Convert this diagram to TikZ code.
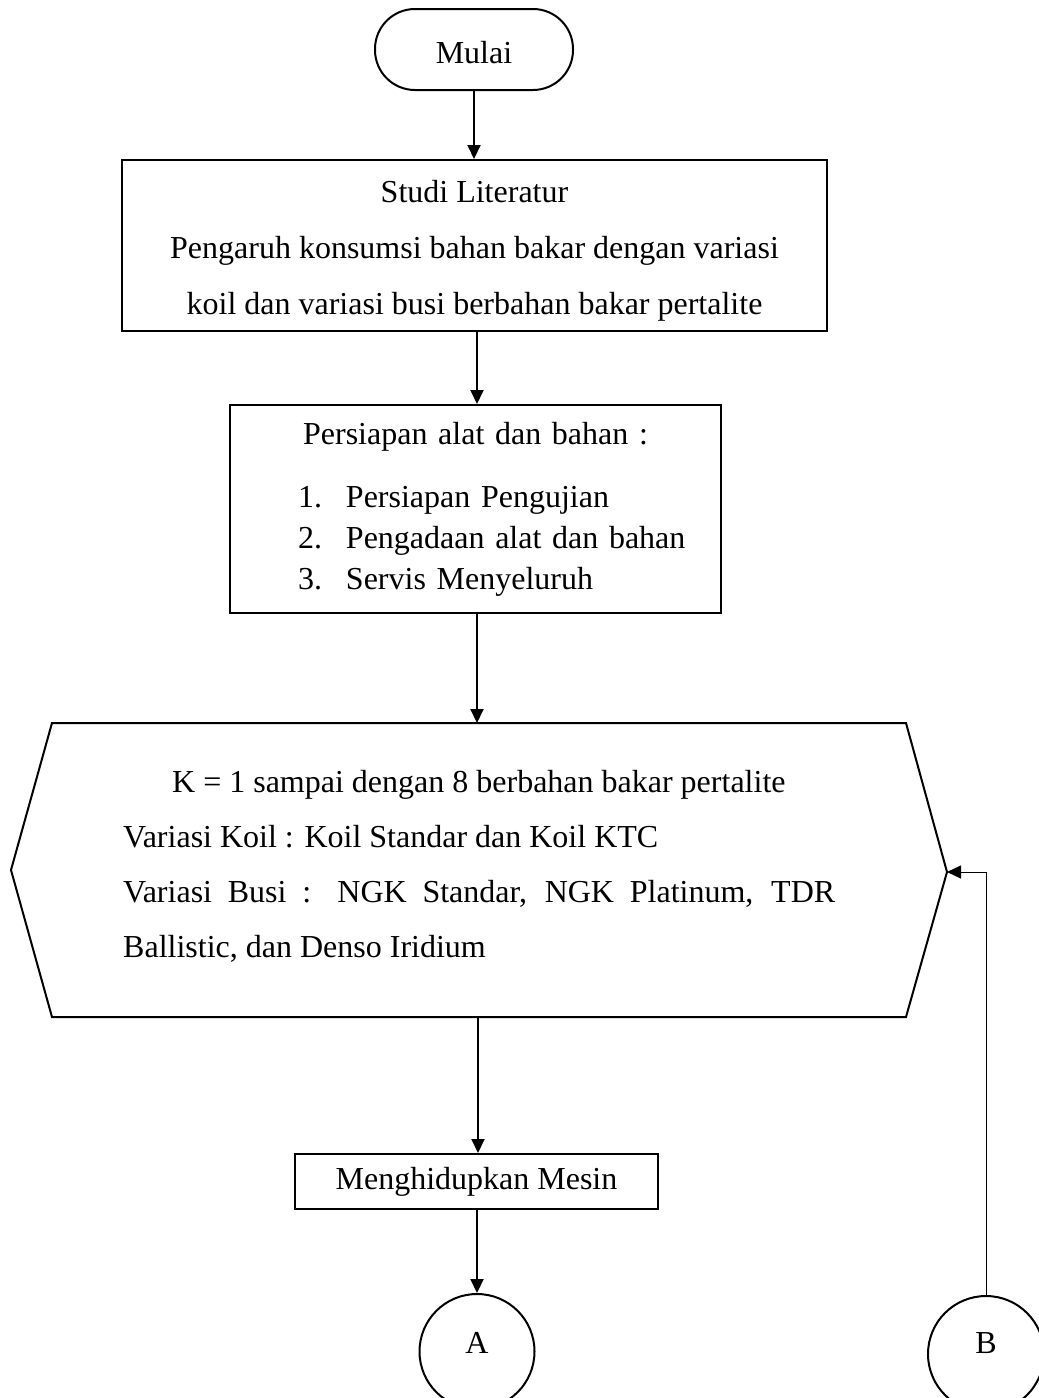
\documentclass[tikz,border=0pt]{standalone}
\usepackage{fontspec}
\setmainfont{Liberation Serif}
\usetikzlibrary{arrows.meta}
\tikzset{
  base/.style={draw, line width=2pt, inner sep=0pt, font=\fontsize{32}{56}\selectfont},
  boxnode/.style={base, rectangle},
  termnode/.style={base, rectangle, rounded corners=40pt},
  connnode/.style={base, circle},
  arr/.style={line width=2pt, -{Triangle[length=14pt,width=13pt]}},
  thinarr/.style={line width=1pt, -{Triangle[length=14pt,width=13pt]}},
  hexline/.style={line width=2pt, line join=miter},
}
\begin{document}
\begin{tikzpicture}[x=1pt,y=-1pt]
\useasboundingbox (0,0) rectangle (1039,1398);
% Terminator
\node[termnode, minimum width=198pt, minimum height=81pt] (mulai) at (474,49.5) {\rule{0pt}{28pt}Mulai};
% Studi Literatur
\node[boxnode, minimum width=705pt, minimum height=171pt, align=center] (studi) at (474.5,245.5)
  {\rule{0pt}{32pt}Studi Literatur\\Pengaruh konsumsi bahan bakar dengan variasi\\koil dan variasi busi berbahan bakar pertalite};
% Persiapan
\node[boxnode, minimum width=491pt, minimum height=208pt, text width=491pt, align=center,
      font=\fontsize{32}{41}\selectfont] (pers) at (475.5,509)
  {Persiapan alat dan bahan :\\[22pt]
   \makebox[491pt][l]{\hspace{68pt}\makebox[48pt][l]{1.}Persiapan Pengujian}\\
   \makebox[491pt][l]{\hspace{68pt}\makebox[48pt][l]{2.}Pengadaan alat dan bahan}\\
   \makebox[491pt][l]{\hspace{68pt}\makebox[48pt][l]{3.}Servis Menyeluruh}};
% Hexagon
\coordinate (hexTL) at (52,723);
\coordinate (hexTR) at (906,723);
\coordinate (hexR) at (947,872);
\coordinate (hexBR) at (906,1017);
\coordinate (hexBL) at (52,1017);
\coordinate (hexL) at (11,870);
\coordinate (hexT) at (477,723);
\coordinate (hexB) at (478,1017);
\draw[hexline] (hexTL) -- (hexTR) -- (hexR) -- (hexBR) -- (hexBL) -- (hexL) -- cycle;
\node[inner sep=0pt, text width=712pt, align=justify, anchor=north west,
      font=\fontsize{32}{55}\selectfont] (hex) at (123,770)
  {\hspace*{49pt}K = 1 sampai dengan 8 berbahan bakar pertalite\\
   Variasi Koil : Koil Standar dan Koil KTC\\
   Variasi Busi : NGK Standar, NGK Platinum, TDR\linebreak Ballistic, dan Denso Iridium};
% Menghidupkan Mesin
\node[boxnode, minimum width=363pt, minimum height=55pt] (meng) at (476.5,1181.5) {Menghidupkan Mesin};
% Connectors A and B
\node[connnode, minimum size=115pt, label={[yshift=9pt,font=\fontsize{32}{34}\selectfont]center:A}] (A) at (477,1351.5) {};
\node[connnode, minimum size=116pt, label={[yshift=11pt,font=\fontsize{32}{34}\selectfont]center:B}] (B) at (986,1354) {};
% Arrows
\draw[arr] (474,0 |- mulai.south) -- (474,0 |- studi.north);
\draw[arr] (477,0 |- studi.south) -- (477,0 |- pers.north);
\draw[arr] (477,0 |- pers.south) -- (hexT);
\draw[arr] (hexB) -- (478,0 |- meng.north);
\draw[arr] (477,0 |- meng.south) -- (A.north);
\draw[thinarr] (B.north) |- (hexR);
\end{tikzpicture}
\end{document}
